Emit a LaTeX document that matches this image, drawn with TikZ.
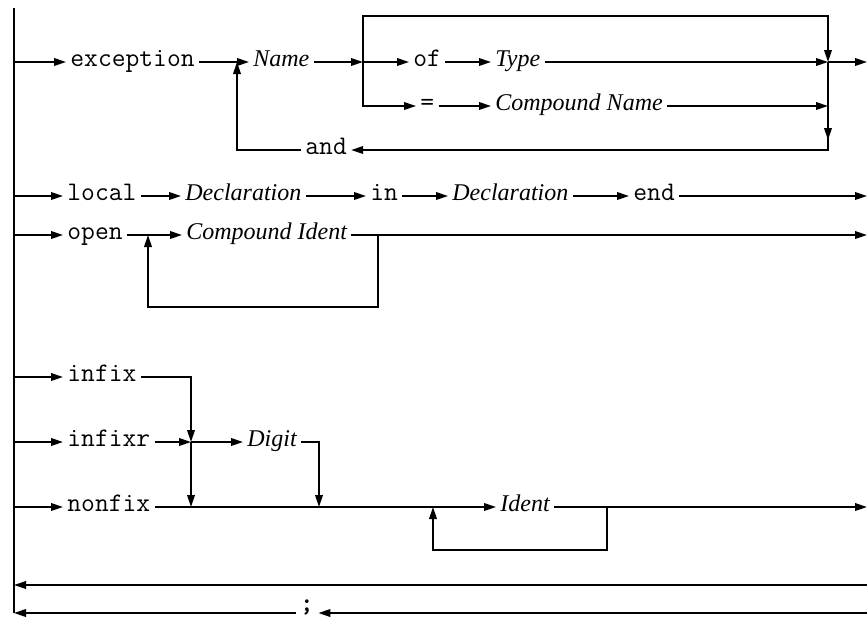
\documentclass[tikz,border=0pt]{standalone}
\usepackage{fontspec}
\setmainfont{Liberation Serif}
\usetikzlibrary{arrows.meta}

\begin{document}
\begin{tikzpicture}[
  x=0.5pt,y=-0.5pt,
  kwnode/.style={anchor=west,inner xsep=2pt,inner ysep=0pt,text height=0.7em,text depth=0.25em,font=\fontsize{13.4}{15}\selectfont\ttfamily},
  ntnode/.style={anchor=west,inner xsep=2pt,inner ysep=0pt,text height=0.7em,text depth=0.25em,font=\fontsize{12}{14}\selectfont\itshape},
  wire/.style={line width=0.9pt},
  arr/.style={wire,-{Triangle[length=6pt,width=3.8pt]}},
]
\useasboundingbox (0,0) rectangle (867,618);

% Left rail
\coordinate (ltop) at (14,8);
\coordinate (l1) at (14,62);
\coordinate (l2) at (14,196);
\coordinate (l3) at (14,235);
\coordinate (l4) at (14,377);
\coordinate (l5) at (14,442);
\coordinate (l6) at (14,507);
\coordinate (l7) at (14,585);
\coordinate (l8) at (14,613);
\draw[wire] (ltop) -- (l8);

% exception lane
\node[kwnode] (exc)   at (66,62)   {exception};
\node[ntnode] (name)  at (249,62)  {Name};
\node[kwnode] (of)    at (409,62)  {of};
\node[ntnode] (type)  at (491,62)  {Type};
\node[kwnode] (eq)    at (416,106) {=};
\node[ntnode] (cname) at (491,106) {Compound Name};
\node[kwnode] (and)   at (301,150) {and};
\coordinate (jl)    at (363,62);
\coordinate (jr)    at (828,62);
\coordinate (jr2)   at (828,106);
\coordinate (jrd)   at (828,140);
\coordinate (jtop)  at (600,16);
\coordinate (jback) at (237,62);
\coordinate (e1)    at (867,62);
\draw[arr] (l1) -- (exc);
\draw[arr] (exc) -- (name);
\draw[arr] (name) -- (jl);
\draw[arr] (jl) -- (of);
\draw[arr] (of) -- (type);
\draw[arr] (type) -- (jr);
\draw[arr] (jl) |- (jtop) -| (jr);
\draw[arr] (jl) |- (eq);
\draw[arr] (eq) -- (cname);
\draw[arr] (cname) -- (jr2);
\draw[arr] (jr) -- (jrd);
\draw[arr] (jr) |- (and);
\draw[arr] (and) -| (jback);
\draw[arr] (jr) -- (e1);

% local lane
\node[kwnode] (local) at (63,196)  {local};
\node[ntnode] (decla) at (181,196) {Declaration};
\node[kwnode] (in)    at (366,196) {in};
\node[ntnode] (declb) at (448,196) {Declaration};
\node[kwnode] (end)   at (629,196) {end};
\coordinate (e2) at (867,196);
\draw[arr] (l2) -- (local);
\draw[arr] (local) -- (decla);
\draw[arr] (decla) -- (in);
\draw[arr] (in) -- (declb);
\draw[arr] (declb) -- (end);
\draw[arr] (end) -- (e2);

% open lane
\node[kwnode] (open) at (63,235)  {open};
\node[ntnode] (ci)   at (182,235) {Compound Ident};
\coordinate (j3)  at (148,235);
\coordinate (j3r) at (378,235);
\coordinate (j3b) at (260,307);
\coordinate (e3)  at (867,235);
\draw[arr] (l3) -- (open);
\draw[wire] (open) -- (j3);
\draw[arr] (j3) -- (ci);
\draw[arr] (ci) -- (e3);
\draw[arr] (j3r) |- (j3b) -| (j3);

% fixity lanes
\node[kwnode] (infix)  at (63,377)  {infix};
\node[kwnode] (infixr) at (63,442)  {infixr};
\node[kwnode] (nonfix) at (63,507)  {nonfix};
\node[ntnode] (digit)  at (243,442) {Digit};
\node[ntnode] (ident)  at (496,507) {Ident};
\coordinate (j5)  at (191,442);
\coordinate (j6)  at (191,507);
\coordinate (j6d) at (319,507);
\coordinate (j6l) at (433,507);
\coordinate (j6r) at (607,507);
\coordinate (j6b) at (520,550);
\coordinate (e6)  at (867,507);
\draw[arr] (l4) -- (infix);
\draw[arr] (l5) -- (infixr);
\draw[arr] (l6) -- (nonfix);
\draw[arr] (infix) -| (j5);
\draw[arr] (infixr) -- (j5);
\draw[arr] (j5) -- (j6);
\draw[arr] (j5) -- (digit);
\draw[arr] (digit) -| (j6d);
\draw[arr] (nonfix) -- (ident);
\draw[arr] (j6r) |- (j6b) -| (j6l);
\draw[arr] (ident) -- (e6);

% return lanes
\node[kwnode,anchor=center,font=\fontsize{13.4}{15}\selectfont\ttfamily\bfseries] (semi) at (307,607) {;};
\coordinate (s7) at (867,585);
\coordinate (s8) at (867,613);
\draw[arr] (s7) -- (l7);
\draw[arr] (s8) -- (s8 -| semi.east);
\draw[arr] (semi.west |- l8) -- (l8);
\end{tikzpicture}
\end{document}
